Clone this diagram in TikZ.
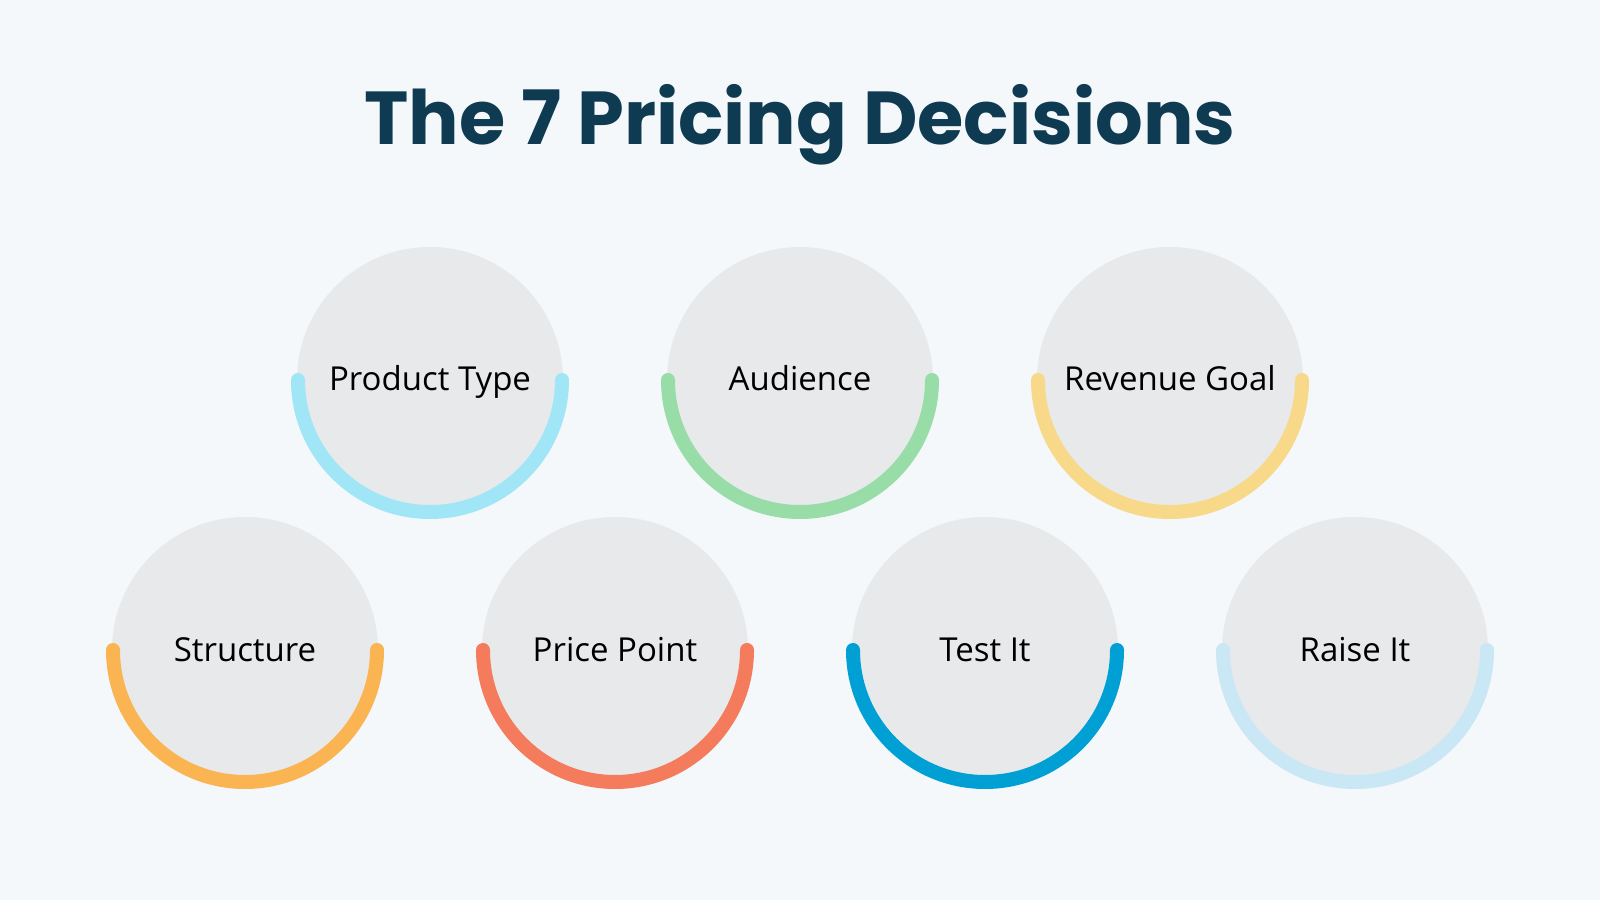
\documentclass[tikz,border=0pt]{standalone}
\usepackage{fontspec}
\setmainfont{Open Sans}
\newfontfamily\titlefont{Poppins}[BoldFont={* Bold}]
\definecolor{bgcol}{HTML}{F4F8FA}
\definecolor{discfill}{HTML}{E8E9EB}
\definecolor{titlecol}{HTML}{0E3B52}
\definecolor{cPT}{HTML}{A0E6F6}
\definecolor{cAU}{HTML}{98DDA8}
\definecolor{cRG}{HTML}{F8D98A}
\definecolor{cST}{HTML}{FBB452}
\definecolor{cPP}{HTML}{F47B5C}
\definecolor{cTI}{HTML}{009FD4}
\definecolor{cRI}{HTML}{C9E7F5}
\tikzset{
  disc/.style={circle, fill=discfill, minimum size=266pt, inner sep=0pt,
    text height=22pt, text depth=0pt, text=black,
    font=\fontsize{33}{36}\selectfont},
  ring/.style={line width=14pt, line cap=round, draw=#1},
}
\begin{document}
\begin{tikzpicture}[x=1pt,y=1pt]
\fill[bgcol] (0,0) rectangle (1600,900);
\useasboundingbox (0,0) rectangle (1600,900);
\node[anchor=base, text=titlecol, font=\titlefont\bfseries\fontsize{75}{80}\selectfont] (title) at (800,755) {The 7 Pricing Decisions};
% top row
\node[disc] (pt) at (430,520) {Product Type};
\node[disc] (au) at (800,520) {Audience};
\node[disc] (rg) at (1170,520) {Revenue Goal};
% bottom row
\node[disc] (st) at (245,250) {Structure};
\node[disc] (pp) at (615,250) {Price Point};
\node[disc] (ti) at (985,250) {Test It};
\node[disc] (ri) at (1355,250) {Raise It};
\draw[ring=cPT] (pt.center) ++(-132,0) arc[start angle=180, end angle=360, radius=132];
\draw[ring=cAU] (au.center) ++(-132,0) arc[start angle=180, end angle=360, radius=132];
\draw[ring=cRG] (rg.center) ++(-132,0) arc[start angle=180, end angle=360, radius=132];
\draw[ring=cST] (st.center) ++(-132,0) arc[start angle=180, end angle=360, radius=132];
\draw[ring=cPP] (pp.center) ++(-132,0) arc[start angle=180, end angle=360, radius=132];
\draw[ring=cTI] (ti.center) ++(-132,0) arc[start angle=180, end angle=360, radius=132];
\draw[ring=cRI] (ri.center) ++(-132,0) arc[start angle=180, end angle=360, radius=132];
\end{tikzpicture}
\end{document}
